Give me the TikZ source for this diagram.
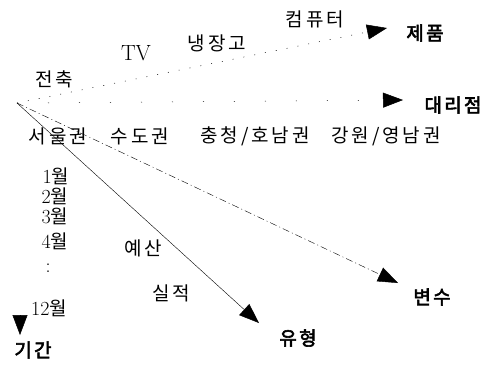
\documentclass[tikz,border=0pt]{standalone}
\usepackage{fontspec}
\usetikzlibrary{arrows.meta}
\newfontfamily\krfont{Noto Sans CJK KR}[LetterSpace=15]
\newfontfamily\krbfont{Noto Sans CJK KR}[LetterSpace=12,FakeBold=3]
\newcommand\numtxt[1]{{\rmfamily\fontsize{20}{22}\selectfont #1}}
\begin{document}
\begin{tikzpicture}[x=1pt,y=-1pt,
  kt/.style={font=\krfont\fontsize{19}{21}\selectfont, inner sep=0pt},
  kb/.style={font=\krbfont\fontsize{19}{21}\selectfont, inner sep=0pt},
  lt/.style={font=\rmfamily\fontsize{22}{24}\selectfont, inner sep=0pt},
  tipped/.style={-{Triangle[length=20pt,width=15pt]}, line width=0.5pt},
]
\useasboundingbox (0,0) rectangle (486,365);
\coordinate (o) at (17,103);
\coordinate (tprod) at (387,28);
\coordinate (tagent) at (403,100);
\coordinate (tvar) at (398,283);
\coordinate (ttype) at (259,323);
\coordinate (tperb) at (20,315);
\coordinate (tper) at (20,335);

% axis labels
\node[kb] (prod) at (425,33) {제품};
\node[kb] (agent) at (453,105) {대리점};
\node[kb] (var) at (432,297) {변수};
\node[kb] (type) at (298,338) {유형};
\node[kb] (per) at (33,350) {기간};

% product members
\node[kt] (jc) at (54,79) {전축};
\node[lt] (tv) at (136,53) {TV};
\node[kt] (fr) at (217,43) {냉장고};
\node[kt] (pc) at (315,19) {컴퓨터};

% regions
\node[kt] (r1) at (58,136) {서울권};
\node[kt] (r2) at (140,136) {수도권};
\node[kt] (r3) at (255,136) {충청/호남권};
\node[kt] (r4) at (386,136) {강원/영남권};

% months
\node[kt] (m1) at (56,176) {\numtxt{1}월};
\node[kt] (m2) at (55,196) {\numtxt{2}월};
\node[kt] (m3) at (55,216) {\numtxt{3}월};
\node[kt] (m4) at (55,241) {\numtxt{4}월};
\node[inner sep=0pt,font=\rmfamily\fontsize{20}{22}\selectfont] (mc) at (48,268) {:};
\node[kt] (m12) at (49,308) {\numtxt{12}월};

% types
\node[kt] (bud) at (143,248) {예산};
\node[kt] (act) at (171,293) {실적};

% connectors
\draw[tipped, dash pattern=on 1pt off 10pt] (o) -- (tprod);
\draw[tipped, dash pattern=on 1pt off 30pt] (o) -- (tagent);
\draw[tipped, dash pattern=on 7pt off 3pt on 1pt off 3pt, line width=0.4pt] (o) -- (tvar);
\draw[tipped, line width=0.4pt] (o) -- (ttype);
\draw[tipped] (tperb) -- (tper);
\end{tikzpicture}
\end{document}
